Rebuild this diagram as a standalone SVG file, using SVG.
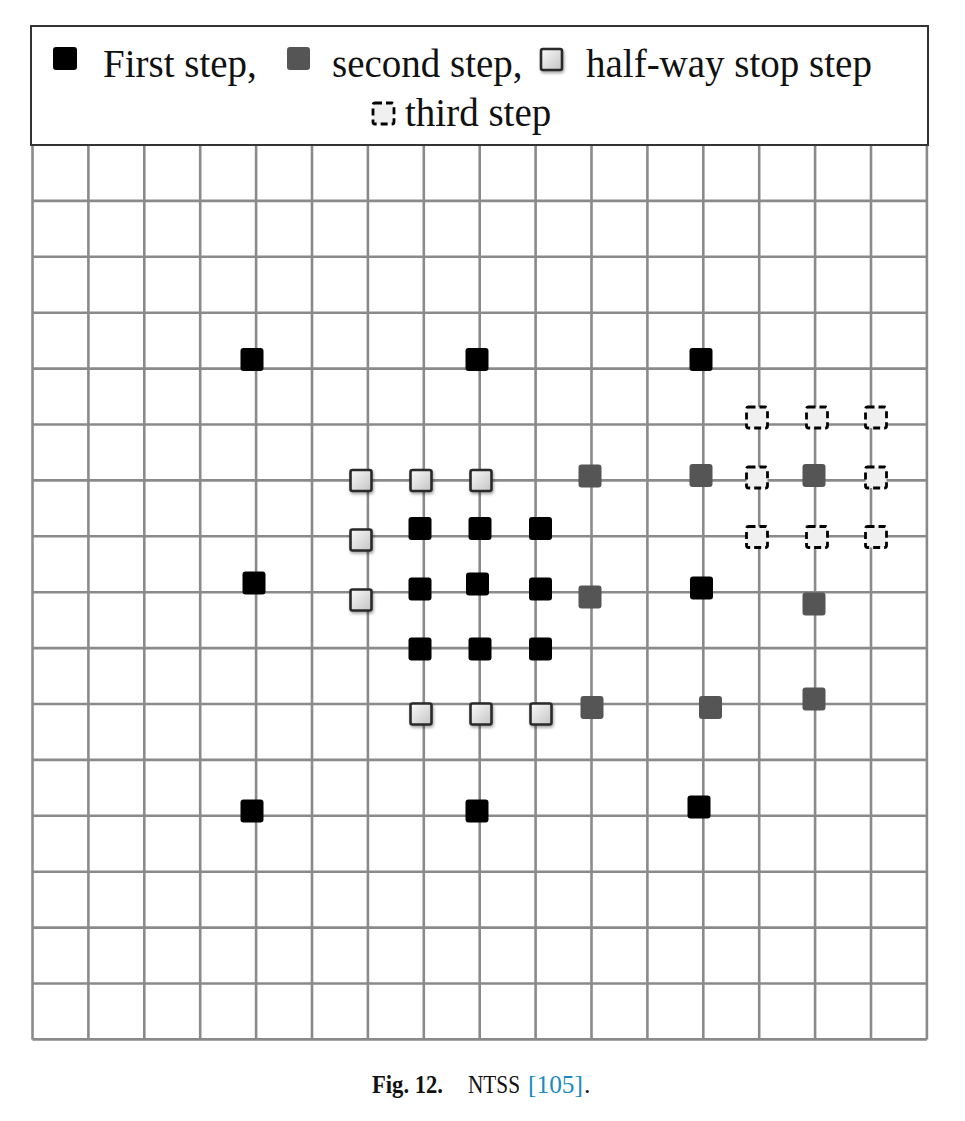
<svg xmlns="http://www.w3.org/2000/svg" width="965" height="1121" viewBox="0 0 965 1121">
<style>
.g{stroke:#8a8a8a;stroke-width:2.6;fill:none}
.b{fill:#000}
.s{fill:#555}
.h{fill:url(#hg);stroke:#2a2a2a;stroke-width:2.6;filter:url(#sh)}
.d{fill:#f0f0f0;stroke:#000;stroke-width:2.8;stroke-dasharray:7 4}
.t{font-family:"Liberation Serif","Times New Roman",serif;font-size:39px;fill:#111}
.c{font-family:"Liberation Serif","Times New Roman",serif;font-size:26px;fill:#111}
.c.l{fill:#1b8bc1}
</style>
<defs>
<linearGradient id="hg" x1="0" y1="0" x2="1" y2="1">
<stop offset="0" stop-color="#fafafa"/>
<stop offset="1" stop-color="#c4c4c4"/>
</linearGradient>
<filter id="sh" x="-30%" y="-30%" width="170%" height="170%">
<feDropShadow dx="1" dy="2" stdDeviation="1.5" flood-color="#000" flood-opacity="0.35"/>
</filter>
<rect id="m" x="-11.5" y="-11.5" width="23" height="23" rx="3"/>
<rect id="mh" x="-10.5" y="-10.5" width="21" height="21" rx="2"/>
</defs>
<rect width="965" height="1121" fill="#fff"/>
<g id="grid">
<path class="g" d="M32.5 145V1039.4M88.4 145V1039.4M144.3 145V1039.4M200.2 145V1039.4M256.1 145V1039.4M312 145V1039.4M367.9 145V1039.4M423.8 145V1039.4M479.7 145V1039.4M535.6 145V1039.4M591.5 145V1039.4M647.4 145V1039.4M703.3 145V1039.4M759.2 145V1039.4M815.1 145V1039.4M871 145V1039.4M926.9 145V1039.4"/>
<path class="g" d="M32.5 200.9H926.9M32.5 256.8H926.9M32.5 312.7H926.9M32.5 368.6H926.9M32.5 424.5H926.9M32.5 480.4H926.9M32.5 536.3H926.9M32.5 592.2H926.9M32.5 648.1H926.9M32.5 704H926.9M32.5 759.9H926.9M32.5 815.8H926.9M32.5 871.7H926.9M32.5 927.6H926.9M32.5 983.5H926.9M32.5 1039.4H926.9"/>
</g>
<g id="legend">
<rect x="31" y="26" width="897" height="119" fill="#fff" stroke="#333" stroke-width="2"/>
<rect class="b" x="53" y="47" width="24" height="23" rx="3"/>
<text class="t" x="103" y="77">First step,</text>
<rect class="s" x="287" y="47" width="23" height="23" rx="3"/>
<text class="t" x="332" y="77">second step,</text>
<rect class="h" x="541" y="49" width="21" height="21" rx="2"/>
<text class="t" x="586" y="77">half-way stop step</text>
<rect class="d" x="373" y="103" width="21" height="21" rx="2"/>
<text class="t" x="405" y="126">third step</text>
</g>
<g id="connectors"></g>
<g id="first-step">
<use href="#m" class="b" x="252" y="359.5"/>
<use href="#m" class="b" x="477" y="359.5"/>
<use href="#m" class="b" x="701" y="359.5"/>
<use href="#m" class="b" x="254" y="583"/>
<use href="#m" class="b" x="701.5" y="588"/>
<use href="#m" class="b" x="252" y="811"/>
<use href="#m" class="b" x="477" y="811"/>
<use href="#m" class="b" x="699" y="807"/>
<use href="#m" class="b" x="420" y="528.5"/>
<use href="#m" class="b" x="480" y="528.5"/>
<use href="#m" class="b" x="540.5" y="528.5"/>
<use href="#m" class="b" x="420" y="589"/>
<use href="#m" class="b" x="477.5" y="584"/>
<use href="#m" class="b" x="540.5" y="589"/>
<use href="#m" class="b" x="420" y="649"/>
<use href="#m" class="b" x="480" y="649"/>
<use href="#m" class="b" x="540.5" y="649"/>
</g>
<g id="second-step">
<use href="#m" class="s" x="590" y="476"/>
<use href="#m" class="s" x="701" y="475.5"/>
<use href="#m" class="s" x="814" y="475.5"/>
<use href="#m" class="s" x="590" y="597"/>
<use href="#m" class="s" x="814" y="604"/>
<use href="#m" class="s" x="592" y="707.5"/>
<use href="#m" class="s" x="710.5" y="707.5"/>
<use href="#m" class="s" x="814" y="699"/>
</g>
<g id="half-way-stop-step">
<use href="#mh" class="h" x="361" y="480.5"/>
<use href="#mh" class="h" x="421" y="480.5"/>
<use href="#mh" class="h" x="481" y="480.5"/>
<use href="#mh" class="h" x="361" y="540"/>
<use href="#mh" class="h" x="361" y="600"/>
<use href="#mh" class="h" x="421" y="714"/>
<use href="#mh" class="h" x="481" y="714"/>
<use href="#mh" class="h" x="541" y="714"/>
</g>
<g id="third-step">
<use href="#mh" class="d" x="757" y="417.5"/>
<use href="#mh" class="d" x="817" y="417.5"/>
<use href="#mh" class="d" x="876" y="417.5"/>
<use href="#mh" class="d" x="757" y="477.5"/>
<use href="#mh" class="d" x="876" y="477.5"/>
<use href="#mh" class="d" x="757" y="537"/>
<use href="#mh" class="d" x="817" y="537"/>
<use href="#mh" class="d" x="876" y="537"/>
</g>
<g id="caption">
<text class="c" x="372" y="1093" font-weight="bold" textLength="71" lengthAdjust="spacingAndGlyphs">Fig. 12.</text>
<text class="c" x="468" y="1093" textLength="52" lengthAdjust="spacingAndGlyphs">NTSS</text>
<text class="c l" x="528" y="1093" textLength="55" lengthAdjust="spacingAndGlyphs">[105]</text>
<text class="c" x="584" y="1093">.</text>
</g>
</svg>
